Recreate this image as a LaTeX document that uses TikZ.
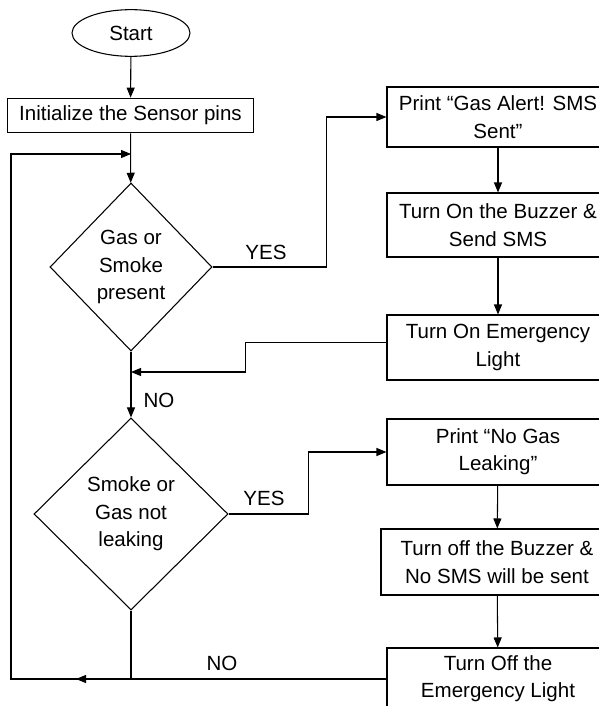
\documentclass[tikz,border=0pt]{standalone}
\usepackage{fontspec}
\setmainfont{Liberation Sans}
\usetikzlibrary{shapes.geometric,arrows.meta}

\begin{document}
\begin{tikzpicture}[x=0.75pt,y=-0.75pt,
    every node/.style={font=\fontsize{15.4}{20.5}\selectfont},
    term/.style={draw,ellipse,line width=0.8pt,minimum width=88.5pt,minimum height=35pt,inner sep=0pt},
    box/.style={draw,rectangle,line width=0.8pt,align=center,minimum width=166.5pt,inner sep=0pt},
    dec/.style={draw,diamond,line width=0.8pt,align=center,inner sep=0pt},
    ln/.style={line width=0.8pt},
    arr/.style={line width=0.8pt,-{Triangle[length=7.5pt,width=6pt]}}]
    \useasboundingbox(0,0)rectangle(599,706);
    \clip(0,0)rectangle(599,706);

    % left column
    \node[term](start) at (131,33) {Start};
    \node[box,minimum width=184pt,minimum height=26pt](init) at (130.5,115.5) {Initialize the Sensor pins};
    \node[dec,minimum width=121.5pt,minimum height=126pt](gas) at (131,267) {Gas or\\Smoke\\present};
    \node[dec,minimum width=145.5pt,minimum height=144pt](leak) at (131,514) {Smoke or\\Gas not\\leaking};

    % right column
    \node[box,minimum height=45pt](alert) at (498,117) {Print “Gas Alert! SMS\\Sent”};
    \node[box,minimum height=48pt](buzon) at (498,225) {Turn On the Buzzer \&\\Send SMS};
    \node[box,minimum height=48.75pt](lighton) at (498,347.5) {Turn On Emergency\\Light};
    \node[box,minimum height=49.5pt](nogas) at (498,452) {Print “No Gas\\Leaking”};
    \node[box,minimum width=174pt,minimum height=49.5pt](buzoff) at (497,562) {Turn off the Buzzer \&\\No SMS will be sent};
    \node[box,minimum height=46.5pt](lightoff) at (498,679) {Turn Off the\\Emergency Light};

    % labels
    \node(yes1) at (266,252) {YES};
    \node(no1) at (159,400) {NO};
    \node(yes2) at (264,498) {YES};
    \node(no2) at (222,663) {NO};

    % joints
    \coordinate(top) at (131,154);
    \coordinate(mid) at (131,372);
    \coordinate(bot) at (131,679);
    \coordinate(corner) at (11,679);
    \coordinate(tip) at (76,679);

    \draw[arr](start)--(init);
    \draw[arr](init)--(gas);
    \draw[arr](gas.east)--++(114,0)|-(alert.west);
    \draw[arr](alert)--(buzon);
    \draw[arr](buzon)--(lighton);
    \draw[arr]([yshift=4pt]lighton.west)--++(-141,0)|-(mid);
    \draw[arr](gas)--(leak);
    \draw[arr](leak.east)--++(80,0)|-(nogas.west);
    \draw[arr](nogas)--(buzoff);
    \draw[arr](buzoff)--(lightoff);
    \draw[ln](leak.south)--(bot);
    \draw[arr](lightoff.west)--(tip);
    \draw[arr](lightoff.west)--(corner)|-(top);
\end{tikzpicture}
\end{document}
